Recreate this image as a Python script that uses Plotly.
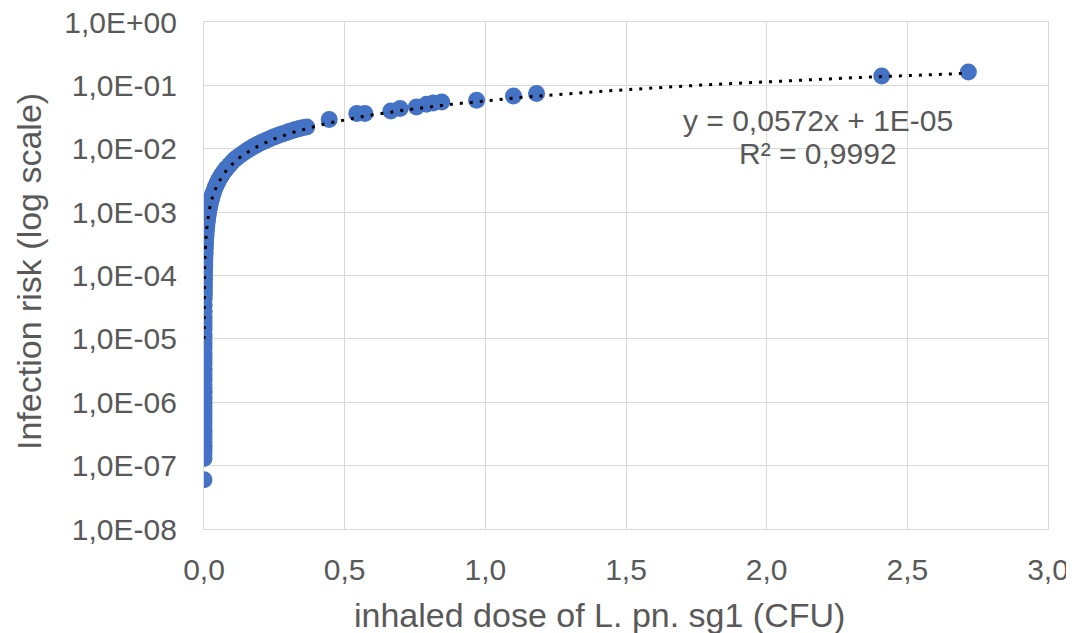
import numpy as np
import plotly.graph_objects as go

# ---- data ----
# dense low-dose band (dose ~ 0)
dose_low = [0.0, 0.0, 0.0, 0.0, 0.0, 0.0, 0.0, 0.0, 0.0, 0.0,
            0.0, 0.0, 0.0, 0.0, 0.0, 0.0, 0.0, 0.0, 0.0, 0.0,
            0.0, 0.0, 0.0, 0.0, 0.0, 0.0, 0.0, 0.0, 0.0, 0.0,
            0.0, 0.0, 0.0, 0.0, 0.0, 0.0, 0.0, 0.0, 0.0, 0.0,
            0.0005, 0.0006, 0.0006, 0.0007, 0.0008, 0.0009, 0.001, 0.0011, 0.0013, 0.0014,
            0.0016, 0.0018, 0.002, 0.0023, 0.0024, 0.0028, 0.0031, 0.0036, 0.0039, 0.0044,
            0.005, 0.0055, 0.0063, 0.007, 0.008, 0.0089, 0.0099, 0.0112, 0.0125, 0.0141,
            0.0158]
risk_low = [6.0e-8, 1.3e-7, 1.5e-7, 1.7e-7, 1.9e-7, 2.1e-7, 2.4e-7, 2.7e-7, 3.0e-7, 3.4e-7,
            3.8e-7, 4.3e-7, 4.8e-7, 5.4e-7, 6.1e-7, 6.8e-7, 7.7e-7, 8.6e-7, 9.7e-7, 1.1e-6,
            1.2e-6, 1.4e-6, 1.5e-6, 1.7e-6, 1.9e-6, 2.2e-6, 2.4e-6, 2.7e-6, 3.1e-6, 3.4e-6,
            3.9e-6, 4.3e-6, 4.9e-6, 5.5e-6, 6.1e-6, 6.9e-6, 7.7e-6, 8.7e-6, 9.7e-6, 1.1e-5,
            2.2e-5, 2.7e-5, 3.4e-5, 4.3e-5, 4.9e-5, 5.5e-5, 6.1e-5, 6.9e-5, 7.7e-5, 8.7e-5,
            9.7e-5, 1.1e-4, 1.2e-4, 1.4e-4, 1.5e-4, 1.7e-4, 1.9e-4, 2.2e-4, 2.4e-4, 2.7e-4,
            3.1e-4, 3.4e-4, 3.9e-4, 4.3e-4, 4.9e-4, 5.5e-4, 6.1e-4, 6.9e-4, 7.7e-4, 8.7e-4,
            9.7e-4]
# extra points filling the vertical band between 1e-5 and 2e-5
dose_fill = [0.0, 0.0, 0.0, 0.0, 0.0]
risk_fill = [1.2e-5, 1.4e-5, 1.5e-5, 1.7e-5, 1.9e-5]

# curved part of the band
dose_curve = [0.018, 0.020, 0.022, 0.025, 0.028, 0.031, 0.034, 0.038, 0.042, 0.046,
              0.050, 0.055, 0.060, 0.065, 0.070, 0.075, 0.080, 0.090, 0.100, 0.110,
              0.120, 0.130, 0.140, 0.150, 0.160, 0.170, 0.180, 0.190, 0.200, 0.210,
              0.220, 0.230, 0.240, 0.250, 0.260, 0.270, 0.280, 0.290, 0.300, 0.310,
              0.320, 0.330, 0.340, 0.350, 0.365]
risk_curve = [0.00111, 0.00123, 0.00135, 0.00154, 0.00172, 0.00191, 0.00209, 0.00234, 0.00258, 0.00283,
              0.00308, 0.00338, 0.00369, 0.0040, 0.0043, 0.0046, 0.0049, 0.0055, 0.0062, 0.0068,
              0.0074, 0.0080, 0.0086, 0.0092, 0.0098, 0.0105, 0.0111, 0.0117, 0.0123, 0.0129,
              0.0135, 0.0141, 0.0148, 0.0154, 0.0160, 0.0166, 0.0172, 0.0178, 0.0185, 0.0191,
              0.0197, 0.0203, 0.0209, 0.0215, 0.0221]

# isolated higher-dose points
dose_high = [0.445, 0.543, 0.572, 0.664, 0.697, 0.755, 0.791, 0.815, 0.845, 0.969, 1.10, 1.182, 2.409, 2.717]
risk_high = [0.0289, 0.0359, 0.0359, 0.0395, 0.043, 0.0457, 0.0503, 0.0527, 0.0547, 0.0582, 0.068, 0.0742, 0.1407, 0.1626]

# linear trendline (Excel fit shown on the chart)
trend_slope = 0.0572
trend_intercept = 1e-05

ytick_vals = [1e0, 1e-1, 1e-2, 1e-3, 1e-4, 1e-5, 1e-6, 1e-7, 1e-8]
ytick_text = ["1,0E+00", "1,0E-01", "1,0E-02", "1,0E-03", "1,0E-04",
              "1,0E-05", "1,0E-06", "1,0E-07", "1,0E-08"]
xtick_vals = [0.0, 0.5, 1.0, 1.5, 2.0, 2.5, 3.0]
xtick_text = ["0,0", "0,5", "1,0", "1,5", "2,0", "2,5", "3,0"]

dose = dose_low + dose_fill + dose_curve + dose_high
risk = risk_low + risk_fill + risk_curve + risk_high

BLUE = "#4472C4"
GREY = "#595959"
GRID = "#D9D9D9"
FONT = "Liberation Sans, Arial, sans-serif"

fig = go.Figure()
fig.add_trace(go.Scatter(
    x=dose, y=risk, mode="markers",
    marker=dict(color=BLUE, size=17, line=dict(width=0)),
    showlegend=False, hoverinfo="x+y"))

# trendline over the data range
xmax = max(dose)
tx = np.concatenate([[0.0], np.geomspace(1e-6, 0.05, 200), np.linspace(0.05, xmax, 200)[1:]])
ty = trend_slope * tx + trend_intercept
fig.add_trace(go.Scatter(
    x=tx, y=ty, mode="lines",
    line=dict(color="black", width=3, dash="3px,7px"),
    showlegend=False, hoverinfo="skip"))

# trendline equation
fig.add_annotation(
    x=0.7275, y=0.8067, xref="paper", yref="paper", xanchor="center", yanchor="middle",
    text="y = 0,0572x + 1E-05", showarrow=False,
    font=dict(family=FONT, size=30, color=GREY))
fig.add_annotation(
    x=0.7275, y=0.7416, xref="paper", yref="paper", xanchor="center", yanchor="middle",
    text="R² = 0,9992", showarrow=False,
    font=dict(family=FONT, size=30, color=GREY))

# axis titles (placed like the reference)
fig.add_annotation(
    x=0.469, y=-0.1696, xref="paper", yref="paper", xanchor="center", yanchor="middle",
    text="inhaled dose of L. pn. sg1 (CFU)", showarrow=False,
    font=dict(family=FONT, size=34, color=GREY))
fig.add_annotation(
    x=-0.2073, y=0.507, xref="paper", yref="paper", xanchor="center", yanchor="middle",
    textangle=-90, text="Infection risk (log scale)", showarrow=False,
    font=dict(family=FONT, size=34, color=GREY))

axis_common = dict(
    showgrid=True, gridcolor=GRID, gridwidth=1.3,
    zeroline=False, showline=True, linecolor=GRID, linewidth=1.3, mirror=True,
    ticks="", tickfont=dict(family=FONT, size=30, color=GREY), automargin=False,
    ticklabeloverflow="allow",
)

# the page adds an 8px body margin; the figure is sized so the plot area
# lands at x 204..1048, y 22..529 of the 1074x633 window
fig.update_layout(
    width=1066, height=625,
    margin=dict(l=196, r=26, t=14, b=104),
    paper_bgcolor="white", plot_bgcolor="white",
    xaxis=dict(range=[0, 3.0], tickvals=xtick_vals, ticktext=xtick_text,
               ticklabelstandoff=14, **axis_common),
    yaxis=dict(type="log", range=[-8, 0], tickvals=ytick_vals, ticktext=ytick_text,
               ticklabelstandoff=20, **axis_common),
)

fig.write_html("out.html")
